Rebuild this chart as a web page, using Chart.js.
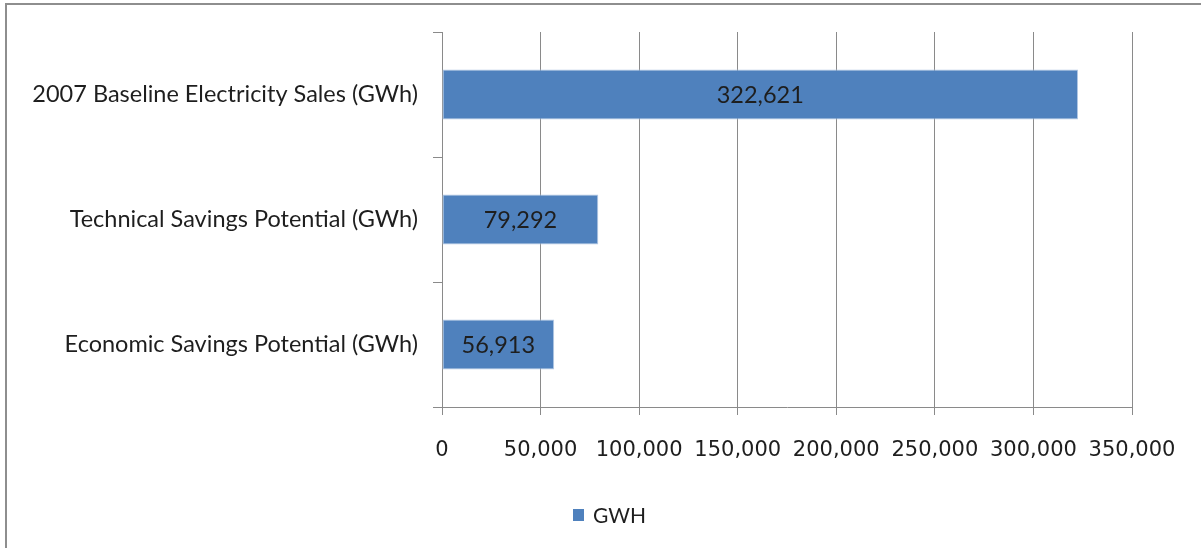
<!DOCTYPE html>
<html>
<head>
<meta charset="utf-8">
<script src="https://cdn.jsdelivr.net/npm/chart.js@4.4.1/dist/chart.umd.min.js"></script>
<style>
  html, body { margin: 0; padding: 0; background: #ffffff; }
  #wrap { position: relative; width: 1201px; height: 548px; overflow: hidden; }
  #frame { position: absolute; left: 5px; top: 3px; width: 1300px; height: 700px;
           border-top: 2px solid #8e8e8e; border-left: 2px solid #8e8e8e; pointer-events: none; }
  canvas { position: absolute; left: 0; top: 0; }
</style>
</head>
<body>
<div id="wrap">
  <canvas id="chart" width="1201" height="548"></canvas>
  <div id="frame"></div>
</div>
<script>
// Categories and values (GWh)
const categories = [
  '2007 Baseline Electricity Sales (GWh)',
  'Technical Savings Potential (GWh)',
  'Economic Savings Potential (GWh)'
];
const gwhValues = [322621, 79292, 56913];
const seriesName = 'GWH';
const axisTicks = [0, 50000, 100000, 150000, 200000, 250000, 300000, 350000];

const BAR_FILL = '#4f81bd';
const BAR_EDGE = '#b3c8e4';
const GRID = '#8a8a8a';
const TEXT = '#1e1e1e';

const fmt = v => Number(v).toLocaleString('en-US');

// Writes each bar's value in the middle of the bar
const valueLabels = {
  id: 'valueLabels',
  afterDatasetsDraw(chart) {
    const ctx = chart.ctx;
    const meta = chart.getDatasetMeta(0);
    const ds = chart.data.datasets[0];
    ctx.save();
    ctx.font = '23.5px Lato';
    ctx.fillStyle = TEXT;
    ctx.textAlign = 'center';
    ctx.textBaseline = 'middle';
    meta.data.forEach((bar, i) => {
      const cx = (bar.base + bar.x) / 2;
      ctx.fillText(fmt(ds.data[i]), cx, bar.y + 1);
    });
    ctx.restore();
  }
};

// Single-entry legend below the axis
const bottomLegend = {
  id: 'bottomLegend',
  afterDraw(chart) {
    const ctx = chart.ctx;
    const ds = chart.data.datasets[0];
    const x = 573, y = 515;
    ctx.save();
    ctx.fillStyle = ds.backgroundColor;
    ctx.fillRect(x, y - 6, 11, 12);
    ctx.font = '21px Lato';
    ctx.fillStyle = TEXT;
    ctx.textAlign = 'left';
    ctx.textBaseline = 'middle';
    ctx.fillText(ds.label, x + 20, y + 1);
    ctx.restore();
  }
};

new Chart(document.getElementById('chart'), {
  type: 'bar',
  data: {
    labels: categories,
    datasets: [{
      label: seriesName,
      data: gwhValues,
      backgroundColor: BAR_FILL,
      borderColor: BAR_EDGE,
      borderWidth: 1,
      borderSkipped: false,
      barPercentage: 0.4,
      categoryPercentage: 1.0
    }]
  },
  options: {
    indexAxis: 'y',
    responsive: false,
    animation: false,
    layout: { padding: { top: 32, right: 69, bottom: 0, left: 0 } },
    plugins: {
      legend: { display: false },
      tooltip: { enabled: false }
    },
    scales: {
      x: {
        min: 0,
        max: 350000,
        afterFit(scale) { scale.height = 141; },
        afterBuildTicks(scale) { scale.ticks = axisTicks.map(v => ({ value: v })); },
        grid: { color: GRID, lineWidth: 1, tickLength: 8, drawTicks: true },
        border: { color: GRID, width: 1 },
        ticks: {
          font: { family: 'DejaVu Sans', size: 21 },
          color: TEXT,
          padding: 23,
          maxRotation: 0,
          autoSkip: false,
          callback: v => fmt(v)
        }
      },
      y: {
        afterFit(scale) { scale.width = 442; },
        grid: { offset: true, drawOnChartArea: false, color: GRID, tickLength: 9 },
        border: { color: GRID, width: 1 },
        ticks: {
          font: { family: 'Lato', size: 23.5 },
          color: TEXT,
          padding: 15
        }
      }
    }
  },
  plugins: [valueLabels, bottomLegend]
});
</script>
</body>
</html>
